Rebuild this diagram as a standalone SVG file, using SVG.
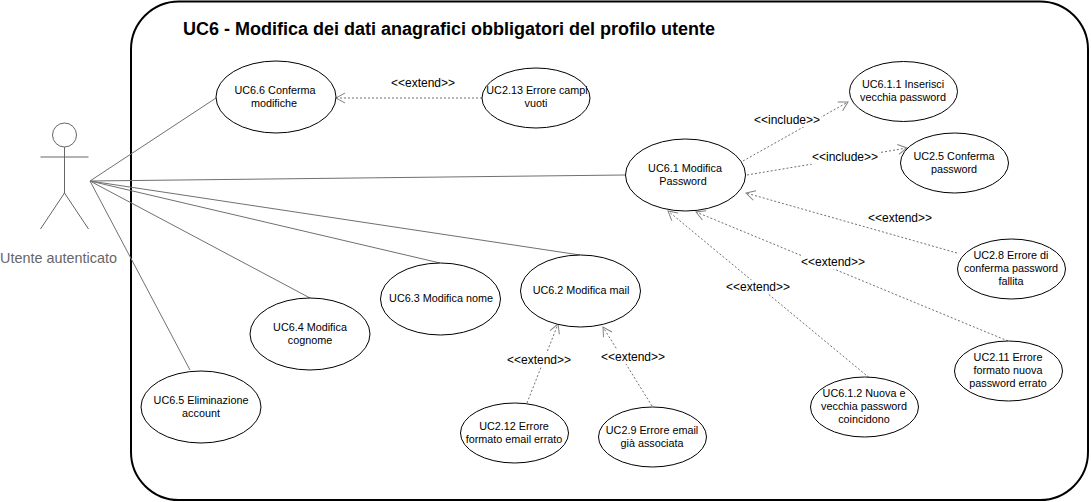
<svg xmlns="http://www.w3.org/2000/svg" width="1091" height="502" viewBox="0 0 1091 502">
<style>
text{font-family:"Liberation Sans",Arial,sans-serif}
.uc ellipse{fill:#fff;stroke:#000;stroke-width:1}
.uc text{font-size:10.8px;fill:#000;text-anchor:middle}
.assoc line{stroke:#707070;stroke-width:1;fill:none}
.dep line{stroke:#707070;stroke-width:1;stroke-dasharray:2 2;fill:none;marker-end:url(#open)}
.lbl rect{fill:#fff}
.lbl text{font-size:12px;fill:#000;text-anchor:middle}
.actor *{stroke:#666;stroke-width:1;fill:#fff}
.actor text{stroke:none;fill:#666;font-size:14.4px;text-anchor:middle}
</style>
<defs>
<marker id="open" markerUnits="userSpaceOnUse" markerWidth="14" markerHeight="14" refX="10" refY="6" orient="auto">
<path d="M1 1 L10 6 L1 11" fill="none" stroke="#808080" stroke-width="1"/>
</marker>
</defs>
<rect width="1091" height="502" fill="#fff"/>
<g id="boundary">
<rect x="131" y="1.5" width="957" height="498.500" rx="48" ry="48" fill="#fff" stroke="#000" stroke-width="2"/>
<text x="183" y="35" font-size="18" font-weight="bold" fill="#000">UC6 - Modifica dei dati anagrafici obbligatori del profilo utente</text>
</g>
<g id="connectors">
<g class="assoc">
<line x1="90" y1="181" x2="216" y2="98"/>
<line x1="90" y1="181" x2="625" y2="175"/>
<line x1="90" y1="181" x2="580" y2="255"/>
<line x1="90" y1="181" x2="440" y2="263"/>
<line x1="90" y1="181" x2="310" y2="298"/>
<line x1="90" y1="181" x2="190" y2="370"/>
</g>
<g class="dep">
<line x1="482" y1="98" x2="336" y2="98"/>
<line x1="743" y1="161" x2="848" y2="102"/>
<line x1="747" y1="175" x2="907" y2="148"/>
<line x1="957" y1="253" x2="746" y2="193"/>
<line x1="1008" y1="341" x2="696" y2="212"/>
<line x1="872" y1="380" x2="668" y2="211"/>
<line x1="527" y1="403" x2="558" y2="324"/>
<line x1="652" y1="406" x2="603" y2="327"/>
</g>
<g class="lbl">
<rect x="391" y="76" width="64" height="14"/><text x="423" y="87">&lt;&lt;extend&gt;&gt;</text>
<rect x="753" y="113" width="68" height="14"/><text x="787" y="124">&lt;&lt;include&gt;&gt;</text>
<rect x="811" y="150" width="68" height="14"/><text x="845" y="161">&lt;&lt;include&gt;&gt;</text>
<rect x="868" y="211" width="64" height="14"/><text x="900" y="222">&lt;&lt;extend&gt;&gt;</text>
<rect x="801" y="255" width="64" height="14"/><text x="833" y="266">&lt;&lt;extend&gt;&gt;</text>
<rect x="726" y="280" width="64" height="14"/><text x="758" y="291">&lt;&lt;extend&gt;&gt;</text>
<rect x="507" y="353" width="64" height="14"/><text x="539" y="364">&lt;&lt;extend&gt;&gt;</text>
<rect x="601" y="350" width="64" height="14"/><text x="633" y="361">&lt;&lt;extend&gt;&gt;</text>
</g>
</g>
<g id="actor" class="actor">
<circle cx="64.500" cy="135" r="12"/>
<line x1="64.500" y1="147" x2="64.500" y2="193"/>
<line x1="40.500" y1="157" x2="88.500" y2="157"/>
<line x1="64.500" y1="193" x2="40.500" y2="229"/>
<line x1="64.500" y1="193" x2="88.500" y2="229"/>
<text x="58.500" y="263">Utente autenticato</text>
</g>
<g id="uc6-6" class="uc"><ellipse cx="276" cy="97" rx="60" ry="36"/><text x="275" y="94">UC6.6 Conferma</text><text x="274" y="107">modifiche</text></g>
<g id="uc2-13" class="uc"><ellipse cx="536" cy="98" rx="54" ry="30"/><text x="537" y="94">UC2.13 Errore campi</text><text x="536" y="107">vuoti</text></g>
<g id="uc6-1-1" class="uc"><ellipse cx="903.500" cy="91.500" rx="54" ry="30"/><text x="903" y="88">UC6.1.1 Inserisci</text><text x="903" y="101">vecchia password</text></g>
<g id="uc2-5" class="uc"><ellipse cx="954.500" cy="163" rx="54" ry="30"/><text x="954" y="160">UC2.5 Conferma</text><text x="954" y="173">password</text></g>
<g id="uc6-1" class="uc"><ellipse cx="685.500" cy="175" rx="60" ry="36"/><text x="685" y="172">UC6.1 Modifica</text><text x="683" y="185">Password</text></g>
<g id="uc2-8" class="uc"><ellipse cx="1011.500" cy="269" rx="54" ry="30"/><text x="1011" y="259">UC2.8 Errore di</text><text x="1011" y="272">conferma password</text><text x="1011" y="285">fallita</text></g>
<g id="uc6-2" class="uc"><ellipse cx="580.500" cy="291" rx="60" ry="36"/><text x="581" y="294">UC6.2 Modifica mail</text></g>
<g id="uc6-3" class="uc"><ellipse cx="440.500" cy="299" rx="60" ry="36"/><text x="441" y="302">UC6.3 Modifica nome</text></g>
<g id="uc6-4" class="uc"><ellipse cx="310" cy="334" rx="60" ry="36"/><text x="310" y="331">UC6.4 Modifica</text><text x="310" y="344">cognome</text></g>
<g id="uc6-5" class="uc"><ellipse cx="201" cy="407" rx="60" ry="36"/><text x="201" y="404">UC6.5 Eliminazione</text><text x="201" y="417">account</text></g>
<g id="uc2-12" class="uc"><ellipse cx="514.500" cy="433" rx="54" ry="30"/><text x="514" y="430">UC2.12 Errore</text><text x="514" y="443">formato email errato</text></g>
<g id="uc2-9" class="uc"><ellipse cx="652.500" cy="437" rx="54" ry="30"/><text x="652" y="434">UC2.9 Errore email</text><text x="652" y="447">già associata</text></g>
<g id="uc6-1-2" class="uc"><ellipse cx="864.500" cy="407" rx="54" ry="30"/><text x="864" y="397">UC6.1.2 Nuova e</text><text x="864" y="410">vecchia password</text><text x="864" y="423">coincidono</text></g>
<g id="uc2-11" class="uc"><ellipse cx="1008.500" cy="371" rx="54" ry="30"/><text x="1008" y="361">UC2.11 Errore</text><text x="1008" y="374">formato nuova</text><text x="1008" y="387">password errato</text></g>
</svg>
